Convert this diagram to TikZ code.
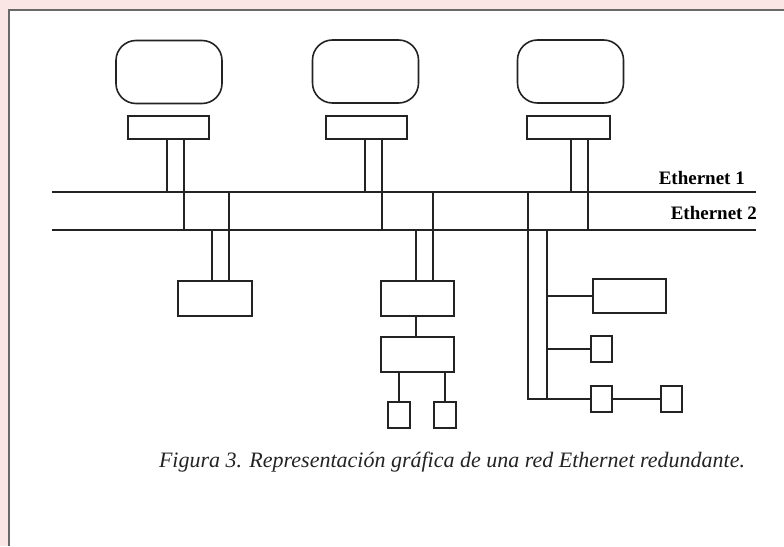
\documentclass[tikz,border=0pt]{standalone}
\usepackage{fontspec}
\setmainfont{Liberation Serif}
\usetikzlibrary{positioning}
\definecolor{pinkbg}{RGB}{251,230,230}
\definecolor{framegray}{RGB}{105,105,105}
\definecolor{ink}{RGB}{35,35,35}
\tikzset{
  screen/.style={
    rectangle,
    rounded corners=20pt,
    draw=ink, line width=1.6pt,
    minimum width=106pt, minimum height=63pt,
    inner sep=0pt,
  },
  device/.style={
    rectangle,
    draw=ink, line width=1.6pt,
    inner sep=0pt,
  },
  wire/.style={draw=ink, line width=1.6pt},
  netlabel/.style={font=\fontsize{19}{22}\selectfont\bfseries, inner sep=0pt},
  caption/.style={font=\fontsize{22}{25}\selectfont\itshape, inner sep=0pt, text=ink},
}

\begin{document}
\begin{tikzpicture}[x=1pt,y=-1pt]
    \useasboundingbox (0,0) rectangle (784,546);
    % page and frame
    \fill[pinkbg] (0,0) rectangle (784,546);
    \fill[white] (9,10) rectangle (784,546);
    \draw[framegray, line width=1.3pt] (9,546) -- (9,10) -- (784,10);

    % the two networks
    \coordinate (E1w) at (52,192);
    \coordinate (E1e) at (756,192);
    \coordinate (E2w) at (52,230);
    \coordinate (E2e) at (756,230);
    \draw[wire] (E1w) -- (E1e);
    \draw[wire] (E2w) -- (E2e);
    \node[netlabel, anchor=base east] (L1) at (745,184) {Ethernet 1};
    \node[netlabel, anchor=base east] (L2) at (757,219) {Ethernet 2};

    % stations on top
    \node[screen] (M1) at (169,72) {};
    \node[screen] (M2) at (365.5,71.5) {};
    \node[screen] (M3) at (570.5,71.5) {};
    \node[device, minimum width=81pt, minimum height=23pt] (I1) at (168.5,127.5) {};
    \node[device, minimum width=81pt, minimum height=23pt] (I2) at (366.5,127.5) {};
    \node[device, minimum width=83pt, minimum height=23pt] (I3) at (568.5,127.5) {};

    \draw[wire] ([xshift=-1.5pt]I1.south) -- ([xshift=-1.5pt]I1.south |- E1w);
    \draw[wire] ([xshift=15.5pt]I1.south) -- ([xshift=15.5pt]I1.south |- E2w);
    \draw[wire] ([xshift=-1.5pt]I2.south) -- ([xshift=-1.5pt]I2.south |- E1w);
    \draw[wire] ([xshift=15.5pt]I2.south) -- ([xshift=15.5pt]I2.south |- E2w);
    \draw[wire] ([xshift=2.5pt]I3.south) -- ([xshift=2.5pt]I3.south |- E1w);
    \draw[wire] ([xshift=19.5pt]I3.south) -- ([xshift=19.5pt]I3.south |- E2w);

    % first device below
    \node[device, minimum width=74pt, minimum height=35pt] (D1) at (215,298.5) {};
    \draw[wire] ([xshift=-3pt]D1.north) -- ([xshift=-3pt]D1.north |- E2w);
    \draw[wire] ([xshift=14pt]D1.north) -- ([xshift=14pt]D1.north |- E1w);

    % second device with its chain
    \node[device, minimum width=73pt, minimum height=35pt] (A2) at (417.5,298.5) {};
    \node[device, minimum width=73pt, minimum height=35pt] (B2) at (417.5,354.5) {};
    \node[device, minimum width=22pt, minimum height=26pt] (S1) at (399,415) {};
    \node[device, minimum width=22pt, minimum height=26pt] (S2) at (445,415) {};
    \draw[wire] ([xshift=-1.5pt]A2.north) -- ([xshift=-1.5pt]A2.north |- E2w);
    \draw[wire] ([xshift=15.5pt]A2.north) -- ([xshift=15.5pt]A2.north |- E1w);
    \draw[wire] ([xshift=-1.5pt]A2.south) -- ([xshift=-1.5pt]B2.north);
    \draw[wire] (B2.south -| S1.north) -- (S1.north);
    \draw[wire] (B2.south -| S2.north) -- (S2.north);

    % third branch
    \coordinate (T1) at (528,192);
    \coordinate (T2) at (547,230);
    \node[device, minimum width=73pt, minimum height=34pt] (P1) at (629.5,296) {};
    \node[device, minimum width=21pt, minimum height=26pt] (Q1) at (601.5,349) {};
    \node[device, minimum width=21pt, minimum height=26pt] (Q2) at (601.5,399) {};
    \node[device, minimum width=21pt, minimum height=26pt] (Q3) at (671.5,399) {};
    \draw[wire] (T1) |- (Q2.west);
    \draw[wire] (T2) -- (T2 |- Q2.west);
    \draw[wire] (T2 |- P1.west) -- (P1.west);
    \draw[wire] (T2 |- Q1.west) -- (Q1.west);
    \draw[wire] (Q2) -- (Q3);

    % caption
    \node[caption, anchor=base] (C) at (452,467) {Figura 3. Representación gráfica de una red Ethernet redundante.};
\end{tikzpicture}
\end{document}
